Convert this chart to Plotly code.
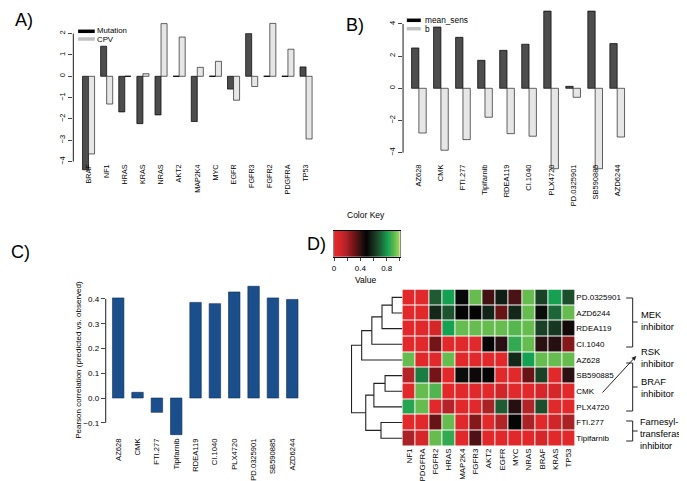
import plotly.graph_objects as go

W, H = 687, 481
FONT = "Liberation Sans, Arial, sans-serif"

# ---------------- data ----------------
genes_a = ["BRAF", "NF1", "HRAS", "KRAS", "NRAS", "AKT2", "MAP2K4", "MYC",
           "EGFR", "FGFR3", "FGFR2", "PDGFRA", "TP53"]
mutation = [-4.38, 1.41, -1.67, -2.22, -1.81, 0, -2.12, 0, -0.60, 2.00, 0, 0, 0.44]
cpv = [-3.64, -1.30, 0, 0.12, 2.47, 1.84, 0.42, 0.70, -1.12, -0.48, 2.48, 1.27, -2.94]

drugs = ["AZ628", "CMK", "FTI.277", "Tipifarnib", "RDEA119", "CI.1040",
         "PLX4720", "PD.0325901", "SB590885", "AZD6244"]
mean_sens = [2.51, 3.81, 3.17, 1.74, 2.36, 2.74, 4.80, 0.12, 4.80, 2.78]
b_coef = [-2.78, -3.85, -3.19, -1.80, -2.82, -2.98, -5.00, -0.56, -5.00, -3.03]

pearson = [0.404, 0.023, -0.058, -0.148, 0.386, 0.381, 0.428, 0.451, 0.404, 0.398]

heat_rows = ["PD.0325901", "AZD6244", "RDEA119", "CI.1040", "AZ628", "SB590885",
             "CMK", "PLX4720", "FTI.277", "Tipifarnib"]
heat_cols = ["NF1", "PDGFRA", "FGFR2", "HRAS", "MAP2K4", "FGFR3", "AKT2", "EGFR",
             "MYC", "NRAS", "BRAF", "KRAS", "TP53"]
heat_vals = [
    [0.03, 0.03, 0.70, 0.82, 0.51, 0.93, 0.38, 0.56, 0.37, 0.93, 0.64, 0.82, 0.67],
    [0.03, 0.03, 0.58, 0.68, 0.50, 0.50, 0.57, 0.32, 0.58, 0.93, 0.52, 0.72, 0.93],
    [0.03, 0.03, 0.08, 0.82, 0.93, 0.93, 0.93, 0.93, 0.91, 0.93, 0.64, 0.62, 0.47],
    [0.03, 0.03, 0.30, 0.03, 0.03, 0.03, 0.50, 0.42, 0.86, 0.93, 0.42, 0.43, 0.27],
    [0.93, 0.03, 0.03, 0.93, 0.03, 0.03, 0.03, 0.03, 0.58, 0.82, 0.93, 0.93, 0.93],
    [0.17, 0.76, 0.30, 0.03, 0.52, 0.48, 0.50, 0.03, 0.03, 0.32, 0.64, 0.03, 0.42],
    [0.03, 0.93, 0.90, 0.03, 0.03, 0.03, 0.03, 0.10, 0.03, 0.03, 0.08, 0.08, 0.03],
    [0.84, 0.93, 0.03, 0.17, 0.03, 0.03, 0.20, 0.70, 0.43, 0.18, 0.67, 0.03, 0.03],
    [0.03, 0.03, 0.32, 0.93, 0.03, 0.27, 0.03, 0.18, 0.50, 0.20, 0.03, 0.10, 0.20],
    [0.20, 0.08, 0.93, 0.86, 0.03, 0.36, 0.03, 0.03, 0.03, 0.03, 0.08, 0.03, 0.03],
]
# dendrogram (hclust-style merge: negative = leaf, positive = earlier merge)
dend_merge = [[-1, -2], [1, -3], [2, -4], [3, -5], [-6, -7], [5, -8], [-9, -10], [6, 7], [4, 8]]
dend_height = [10, 20, 30, 40, 17, 28, 21, 36, 50]

key_ticks = [0, 0.2, 0.4, 0.6, 0.8, 1.0]
key_ticklabels = ["0", "", "0.4", "", "0.8", ""]

colorscale = [
    [0.0, "#e8292c"], [0.1, "#d02629"], [0.2, "#a82226"], [0.3, "#741416"],
    [0.42, "#2a1012"], [0.5, "#050505"], [0.58, "#14281a"], [0.7, "#1e5a32"],
    [0.82, "#16a052"], [0.93, "#66bc4e"], [1.0, "#9ad45a"],
]


def fx(p):
    return p / W


def fy(p):
    return 1 - p / H


fig = go.Figure()
shapes = []
ann = []


def bar_axis_range(d0, d1, first_center, pitch):
    lo = -(first_center - d0) / pitch
    hi = (d1 - first_center) / pitch
    return [lo, hi]


# ---------------- Panel A ----------------
a_x0, a_x1 = 63.5, 312.5
a_zero, a_unit = 68.3, 21.33
a_top, a_bot = 9, 167
xi_a = list(range(len(genes_a)))
fig.add_trace(go.Bar(x=xi_a, y=mutation, width=1/3, offset=-1/3,
                     marker=dict(color="#4d4d4d", line=dict(color="black", width=0.7)),
                     xaxis="x", yaxis="y", showlegend=False))
fig.add_trace(go.Bar(x=xi_a, y=cpv, width=1/3, offset=0,
                     marker=dict(color="#e6e6e6", line=dict(color="#222", width=0.7)),
                     xaxis="x", yaxis="y", showlegend=False))
for i, v in enumerate(mutation):
    if v == 0:
        shapes.append(dict(type="line", xref="x", yref="y", x0=i - 1/3, x1=i, y0=0, y1=0,
                           line=dict(color="black", width=0.8)))
for i, v in enumerate(cpv):
    if v == 0:
        shapes.append(dict(type="line", xref="x", yref="y", x0=i, x1=i + 1/3, y0=0, y1=0,
                           line=dict(color="black", width=0.8)))

# ---------------- Panel B ----------------
b_x0, b_x1 = 394.2, 626.5
b_zero, b_unit = 80.3, 16.08
b_top, b_bot = 0, 167
xi_b = list(range(len(drugs)))
fig.add_trace(go.Bar(x=xi_b, y=mean_sens, width=1/3, offset=-1/3,
                     marker=dict(color="#4d4d4d", line=dict(color="black", width=0.7)),
                     xaxis="x2", yaxis="y2", showlegend=False))
fig.add_trace(go.Bar(x=xi_b, y=b_coef, width=1/3, offset=0,
                     marker=dict(color="#e6e6e6", line=dict(color="#222", width=0.7)),
                     xaxis="x2", yaxis="y2", showlegend=False))

# ---------------- Panel C ----------------
c_x0, c_x1 = 96, 296
c_zero, c_unit = 390, 247.7
c_top, c_bot = 272, 428
fig.add_trace(go.Bar(x=xi_b, y=pearson, width=0.593,
                     marker=dict(color="#1b4f8b", line=dict(color="#0d2d55", width=0.6)),
                     xaxis="x3", yaxis="y3", showlegend=False))

# ---------------- Panel D heatmap ----------------
h_x0, h_x1 = 393.5, 567
h_y0, h_y1 = 281.5, 438
fig.add_trace(go.Heatmap(z=heat_vals, x=list(range(len(heat_cols))), y=list(range(len(heat_rows))),
                         colorscale=colorscale, zmin=0, zmax=1, showscale=False,
                         xgap=1, ygap=1, xaxis="x4", yaxis="y4", hoverinfo="skip"))

# dendrogram
pos, dx, dy = {}, [], []
for k, (a, b) in enumerate(dend_merge, start=1):
    def info(c):
        if c < 0:
            return (-c - 1, 0)
        return (pos[c], dend_height[c - 1])
    ya, ha = info(a)
    yb, hb = info(b)
    h = dend_height[k - 1]
    dx += [ha, h, h, hb, None]
    dy += [ya, ya, yb, yb, None]
    pos[k] = (ya + yb) / 2
fig.add_trace(go.Scatter(x=dx, y=dy, mode="lines", line=dict(color="#222", width=1.1),
                         xaxis="x5", yaxis="y4", showlegend=False, hoverinfo="skip"))

# colour key
key_n = 101
key_x = [i / (key_n - 1) for i in range(key_n)]
fig.add_trace(go.Heatmap(z=[key_x], x=key_x, y=[0], colorscale=colorscale, zmin=0, zmax=1,
                         showscale=False, xaxis="x6", yaxis="y6", hoverinfo="skip"))

tickfont = dict(family=FONT, size=7.5, color="black")

layout_axes = dict(
    xaxis=dict(domain=[fx(a_x0), fx(a_x1)], range=bar_axis_range(a_x0, a_x1, 72.7 + 6.06, 18.18),
               tickvals=xi_a, ticktext=genes_a, tickangle=-90, ticks="", showgrid=False,
               zeroline=False, showline=False, anchor="free", position=fy(154),
               tickfont=dict(family=FONT, size=7.2, color="black")),
    yaxis=dict(domain=[fy(a_bot), fy(a_top)],
               range=[(a_zero - a_bot) / a_unit, (a_zero - a_top) / a_unit],
               tickvals=[-4, -3, -2, -1, 0, 1, 2], tickangle=-90, ticks="outside", ticklen=4,
               showgrid=False, zeroline=False, showline=False, anchor="x", tickfont=tickfont),
    xaxis2=dict(domain=[fx(b_x0), fx(b_x1)], range=bar_axis_range(b_x0, b_x1, 402.7 + 7.37, 22.1),
                tickvals=xi_b, ticktext=drugs, tickangle=-90, ticks="", showgrid=False,
                zeroline=False, showline=False, anchor="free", position=fy(154),
                tickfont=dict(family=FONT, size=7.5, color="black")),
    yaxis2=dict(domain=[fy(b_bot), fy(b_top)],
                range=[(b_zero - b_bot) / b_unit, (b_zero - b_top) / b_unit],
                tickvals=[-4, -2, 0, 2, 4], tickangle=-90, ticks="outside", ticklen=4,
                showgrid=False, zeroline=False, showline=False, anchor="x2", tickfont=tickfont),
    xaxis3=dict(domain=[fx(c_x0), fx(c_x1)], range=bar_axis_range(c_x0, c_x1, 108.5, 19.4),
                tickvals=xi_b, ticktext=drugs, tickangle=-90, ticks="", showgrid=False,
                zeroline=False, showline=False, anchor="y3",
                tickfont=dict(family=FONT, size=7.6, color="black")),
    yaxis3=dict(domain=[fy(c_bot), fy(c_top)],
                range=[(c_zero - c_bot) / c_unit, (c_zero - c_top) / c_unit],
                tickvals=[-0.1, 0.0, 0.1, 0.2, 0.3, 0.4], tickformat=".1f",
                ticks="outside", ticklen=4, showgrid=False, zeroline=False, showline=False,
                anchor="x3", tickfont=dict(family=FONT, size=8, color="black")),
    xaxis4=dict(domain=[fx(h_x0), fx(h_x1)], range=[-0.5, len(heat_cols) - 0.5],
                tickvals=list(range(len(heat_cols))), ticktext=heat_cols, tickangle=-90,
                ticks="", showgrid=False, zeroline=False, showline=False, anchor="y4",
                tickfont=dict(family=FONT, size=7.9, color="black")),
    yaxis4=dict(domain=[fy(h_y1), fy(h_y0)], range=[len(heat_rows) - 0.5, -0.5],
                tickvals=list(range(len(heat_rows))), ticktext=heat_rows, side="right",
                ticks="", showgrid=False, zeroline=False, showline=False, anchor="x4",
                tickfont=dict(family=FONT, size=8, color="black")),
    xaxis5=dict(domain=[fx(342), fx(h_x0)], range=[50.5, 0], visible=False, anchor="y4"),
    xaxis6=dict(domain=[fx(325), fx(391)], range=[0, 1], tickvals=key_ticks,
                ticktext=key_ticklabels, ticks="outside", ticklen=3, showline=True,
                mirror=True, linecolor="black", linewidth=0.8, showgrid=False, zeroline=False,
                anchor="y6", tickfont=dict(family=FONT, size=8, color="black")),
    yaxis6=dict(domain=[fy(249), fy(222.7)], range=[-0.5, 0.5], showticklabels=False,
                ticks="", showline=True, mirror=True, linecolor="#888", linewidth=0.6,
                showgrid=False, zeroline=False, anchor="x6"),
)

# axis lines in R style (between extreme ticks)
shapes += [
    dict(type="line", xref="paper", yref="y", x0=fx(a_x0), x1=fx(a_x0), y0=-4, y1=2,
         line=dict(color="black", width=0.9)),
    dict(type="line", xref="paper", yref="y2", x0=fx(b_x0), x1=fx(b_x0), y0=-4, y1=4,
         line=dict(color="black", width=0.9)),
    dict(type="line", xref="paper", yref="y3", x0=fx(c_x0), x1=fx(c_x0), y0=-0.1, y1=0.4,
         line=dict(color="black", width=0.9)),
]


def legend_line(x0, x1, y, color):
    shapes.append(dict(type="line", xref="paper", yref="paper", x0=fx(x0), x1=fx(x1),
                       y0=fy(y), y1=fy(y), line=dict(color=color, width=3.5)))


legend_line(68.3, 85, 23.3, "black")
legend_line(68.3, 85, 31, "#c0c0c0")
legend_line(398, 412, 12.3, "black")
legend_line(398, 412, 20.7, "#c0c0c0")


def text(x, y, s, size, xanchor="left", yanchor="middle", angle=0, align="left"):
    ann.append(dict(x=fx(x), y=fy(y), xref="paper", yref="paper", text=s, showarrow=False,
                    xanchor=xanchor, yanchor=yanchor, textangle=angle, align=align,
                    borderpad=0, font=dict(family=FONT, size=size, color="black")))


text(86, 22.8, "Mutation", 7.8)
text(86, 31.3, "CPV", 7.8)
text(415, 12, "mean_sens", 8.3)
text(415, 21, "b", 8.3)

# panel labels
text(4, 12, "A)", 18)
text(336, 17, "B)", 18)
text(0, 244, "C)", 18)
text(297, 236, "D)", 18)

# C y-axis title
text(68, 352, "Pearson correlation (predicted vs. observed)", 8, xanchor="center", angle=-90)

# colour key texts
text(357, 207, "Color Key", 8.5, xanchor="center")
text(357, 271.5, "Value", 8.5, xanchor="center")


def bracket(y0, y1, ymid, xv=624.5, xl=618, xr=629.5):
    for seg in [(xl, y0, xv, y0), (xv, y0, xv, y1), (xl, y1, xv, y1), (xv, ymid, xr, ymid)]:
        shapes.append(dict(type="line", xref="paper", yref="paper", x0=fx(seg[0]), y0=fy(seg[1]),
                           x1=fx(seg[2]), y1=fy(seg[3]), line=dict(color="#222", width=1)))


bracket(290, 339, 314)
bracket(355, 403, 379)
bracket(413, 433, 423)

text(632, 312.5, "MEK<br>inhibitor", 9.4)
text(632, 349, "RSK<br>inhibitor", 9.4)
text(632, 379.5, "BRAF<br>inhibitor", 9.4)
text(631, 425.5, "Farnesyl-<br>transferase<br>inhibitor", 9.2)

# arrow CMK -> RSK
ann.append(dict(x=fx(628), y=fy(348), xref="paper", yref="paper", ax=593 - 628, ay=386 - 348,
                axref="pixel", ayref="pixel", showarrow=True, arrowhead=2, arrowsize=0.9,
                arrowwidth=1, arrowcolor="#222", text=""))

fig.update_layout(
    width=W, height=H, margin=dict(l=0, r=0, t=0, b=0),
    paper_bgcolor="white", plot_bgcolor="white",
    barmode="overlay", showlegend=False,
    font=dict(family=FONT, color="black"),
    shapes=shapes, annotations=ann,
    **layout_axes,
)

fig.write_html("out.html")
